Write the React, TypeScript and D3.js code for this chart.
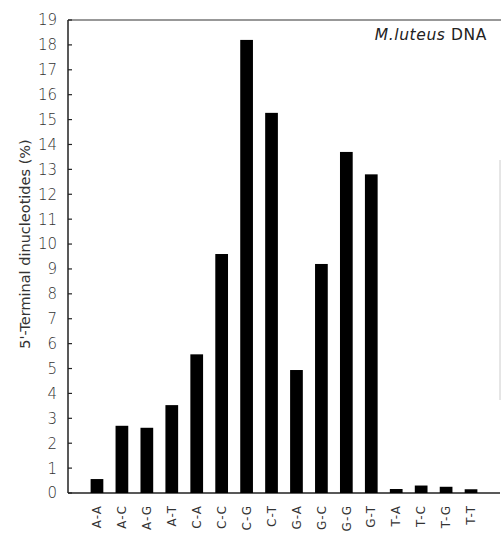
import React from "react";
import * as d3 from "d3";

const categories = ["A-A","A-C","A-G","A-T","C-A","C-C","C-G","C-T","G-A","G-C","G-G","G-T","T-A","T-C","T-G","T-T"];
const values = [0.56,2.7,2.62,3.53,5.57,9.6,18.2,15.27,4.94,9.2,13.7,12.8,0.16,0.3,0.25,0.15];
const yTicks = d3.range(0, 20);

export default function App() {
  const W = 501, H = 534;
  const x0 = 68, xEnd = 500, yTop = 20, yBase = 493;
  const x = d3.scaleBand<string>().domain(categories).range([84.5, 483.5]).paddingInner(0.49).paddingOuter(0.245);
  const y = d3.scaleLinear().domain([0, 19]).range([yBase, yTop]);
  const font = "'DejaVu Sans', 'Liberation Sans', Arial, sans-serif";
  return (
    <svg width={W} height={H} style={{ position: "absolute", left: 0, top: 0, background: "#fff" }} fontFamily={font}>
      <rect width={W} height={H} fill="#fff" />
      <line x1={x0} x2={x0} y1={yTop} y2={yBase} stroke="#222" strokeWidth={1.5} />
      <line x1={x0} x2={W} y1={yTop} y2={yTop} stroke="#333" strokeWidth={1.2} />
      <line x1={x0} x2={xEnd} y1={yBase} y2={yBase} stroke="#222" strokeWidth={1.5} />
      <line x1={500} x2={500} y1={160} y2={400} stroke="#ccc" strokeWidth={1} />
      {yTicks.map(t => (
        <g key={t}>
          <line x1={x0} x2={x0 + 4} y1={y(t)} y2={y(t)} stroke="#222" strokeWidth={1.2} />
          <text x={57} y={y(t)} dy="0.36em" textAnchor="end" fontSize={15} fontWeight={300} fill="#333">{t}</text>
        </g>
      ))}
      {categories.map((c, i) => (
        <rect key={c} x={x(c)} y={y(values[i])} width={x.bandwidth()} height={yBase - y(values[i])} fill="#000" />
      ))}
      {categories.map(c => {
        const cx = (x(c) as number) + x.bandwidth() / 2;
        return (
          <text key={c} transform={`translate(${cx},${505}) rotate(-90)`} textAnchor="end" dy="0.35em" fontSize={12} letterSpacing={1} fill="#333">{c}</text>
        );
      })}
      <text transform={`translate(25,244) rotate(-90)`} textAnchor="middle" dy="0.35em" fontSize={14.5} fill="#333">5'-Terminal dinucleotides (%)</text>
      <text x={487} y={40} textAnchor="end" fontSize={15.5} fill="#222" letterSpacing={0.6}>
        <tspan fontStyle="italic">M.luteus</tspan> DNA
      </text>
    </svg>
  );
}
